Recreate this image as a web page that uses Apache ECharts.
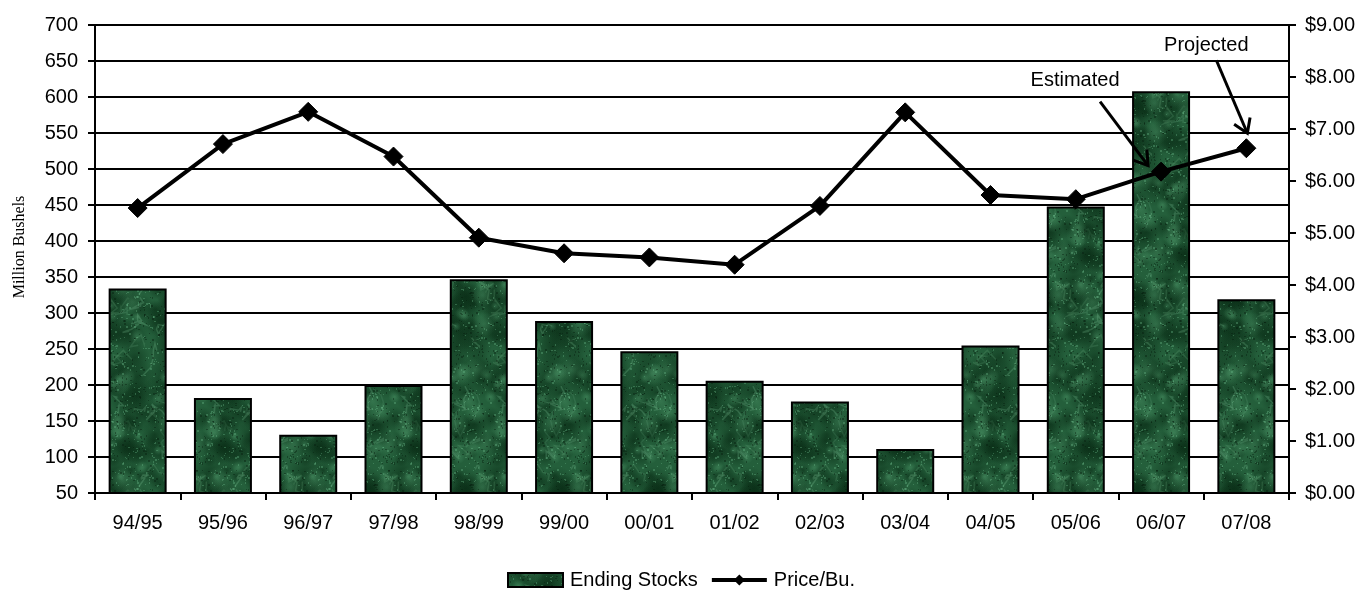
<!DOCTYPE html>
<html>
<head>
<meta charset="utf-8">
<script src="https://cdn.jsdelivr.net/npm/echarts@6/dist/echarts.min.js"></script>
<style>
html,body{margin:0;padding:0;background:#fff;}
#chart{width:1362px;height:597px;}
</style>
</head>
<body>
<div id="chart"></div>
<script>
const categories = ['94/95','95/96','96/97','97/98','98/99','99/00','00/01','01/02','02/03','03/04','04/05','05/06','06/07','07/08'];
const endingStocks = [334, 182, 131, 200, 347, 289, 247, 206, 177, 111, 255, 448, 608, 319];
const pricePerBu = [5.48, 6.71, 7.33, 6.47, 4.91, 4.61, 4.53, 4.39, 5.52, 7.32, 5.73, 5.65, 6.18, 6.63];
const leftTicks = {min: 50, max: 700, interval: 50};
const rightTicks = {min: 0, max: 9, interval: 1};
const annotations = [
  {index: 12, text: 'Estimated'},
  {index: 13, text: 'Projected'}
];

function makeMarble(){
  const W = 96, H = 192;
  const c = document.createElement('canvas');
  c.width = W; c.height = H;
  const g = c.getContext('2d');
  g.fillStyle = '#245f3b';
  g.fillRect(0, 0, W, H);
  let s = 24680;
  const rnd = () => { s = (s * 1103515245 + 12345) & 0x7fffffff; return s / 0x7fffffff; };
  const blot = (x, y, r, col) => {
    for (const dx of [-W, 0, W]) for (const dy of [-H, 0, H]) {
      const gr = g.createRadialGradient(x + dx, y + dy, 0, x + dx, y + dy, r);
      gr.addColorStop(0, col);
      gr.addColorStop(1, col.replace(/[\d.]+\)$/, '0)'));
      g.fillStyle = gr;
      g.fillRect(x + dx - r, y + dy - r, 2 * r, 2 * r);
    }
  };
  for (let i = 0; i < 70; i++) blot(rnd() * W, rnd() * H, 6 + rnd() * 14, 'rgba(8,42,20,0.55)');
  for (let i = 0; i < 40; i++) blot(rnd() * W, rnd() * H, 4 + rnd() * 9, 'rgba(90,170,120,0.35)');
  g.lineWidth = 1.5;
  for (let i = 0; i < 30; i++) {
    g.strokeStyle = 'rgba(120,190,145,' + (0.12 + rnd() * 0.18).toFixed(2) + ')';
    g.beginPath();
    let x = rnd() * W, y = rnd() * H;
    g.moveTo(x, y);
    for (let k = 0; k < 5; k++) { x += (rnd() - 0.5) * 20; y += (rnd() - 0.5) * 20; g.lineTo(x, y); }
    g.stroke();
  }
  for (let i = 0; i < 900; i++) {
    g.fillStyle = rnd() < 0.5 ? 'rgba(110,190,140,0.35)' : 'rgba(4,28,12,0.4)';
    g.fillRect(rnd() * W | 0, rnd() * H | 0, 1 + (rnd() < 0.4), 1 + (rnd() < 0.4));
  }
  return c;
}

const marble = makeMarble();
const chart = echarts.init(document.getElementById('chart'), null, {renderer: 'canvas'});
const FONT = '"Liberation Sans", Arial, sans-serif';

const option = {
  animation: false,
  backgroundColor: '#fff',
  grid: {left: 95, right: 73, top: 25, bottom: 104, containLabel: false, outerBoundsMode: 'none'},
  legend: {
    bottom: 2,
    left: 'center',
    itemWidth: 55,
    itemHeight: 14,
    itemGap: 12,
    textStyle: {fontFamily: FONT, fontSize: 20, color: '#000', padding: [0, 0, 0, 2]},
    data: [
      {name: 'Ending Stocks', icon: 'rect', itemStyle: {borderColor: '#000', borderWidth: 2}},
      {name: 'Price/Bu.', lineStyle: {color: '#000', width: 4}, itemStyle: {color: '#000'}}
    ]
  },
  xAxis: {
    type: 'category',
    data: categories,
    boundaryGap: true,
    axisLine: {lineStyle: {color: '#000', width: 2}},
    axisTick: {show: true, interval: 0, length: 7, lineStyle: {color: '#000', width: 2}},
    axisLabel: {interval: 0, margin: 20, color: '#000', fontFamily: FONT, fontSize: 20},
    splitLine: {show: false}
  },
  yAxis: [
    {
      type: 'value',
      min: leftTicks.min, max: leftTicks.max, interval: leftTicks.interval,
      name: 'Million Bushels',
      nameLocation: 'middle',
      nameGap: 67,
      nameTextStyle: {fontFamily: '"Liberation Serif", "Times New Roman", serif', fontSize: 16, color: '#000', padding: [0, 0, 0, 24]},
      axisLine: {show: true, lineStyle: {color: '#000', width: 2}},
      axisTick: {show: true, length: 7, lineStyle: {color: '#000', width: 2}},
      axisLabel: {margin: 17, color: '#000', fontFamily: FONT, fontSize: 20},
      splitLine: {show: true, lineStyle: {color: '#000', width: 2}}
    },
    {
      type: 'value',
      position: 'right',
      min: rightTicks.min, max: rightTicks.max, interval: rightTicks.interval,
      axisLine: {show: true, lineStyle: {color: '#000', width: 2}},
      axisTick: {show: true, length: 7, lineStyle: {color: '#000', width: 2}},
      axisLabel: {margin: 16, color: '#000', fontFamily: FONT, fontSize: 20,
        formatter: v => '$' + v.toFixed(2)},
      splitLine: {show: false}
    }
  ],
  series: [
    {
      name: 'Ending Stocks',
      type: 'bar',
      yAxisIndex: 0,
      data: endingStocks,
      barCategoryGap: '32%',
      itemStyle: {color: {image: marble, repeat: 'repeat'}, borderColor: '#000', borderWidth: 2},
      z: 2
    },
    {
      name: 'Price/Bu.',
      type: 'line',
      yAxisIndex: 1,
      data: pricePerBu,
      symbol: 'diamond',
      symbolSize: 19,
      lineStyle: {color: '#000', width: 4},
      itemStyle: {color: '#000', borderColor: '#000'},
      z: 5
    }
  ]
};
chart.setOption(option);

// Annotations anchored to data points via the chart's own coordinate conversion
const graphics = [];
const annoOffsets = {
  'Estimated': {start: [-61, -70], tip: [-13, -6], text: [-86, -91]},
  'Projected': {start: [-30, -88], tip: [1, -15], text: [-40, -103]}
};
annotations.forEach(a => {
  const p = chart.convertToPixel({seriesIndex: 1}, [a.index, pricePerBu[a.index]]);
  const o = annoOffsets[a.text];
  const sx = p[0] + o.start[0], sy = p[1] + o.start[1];
  const tx = p[0] + o.tip[0], ty = p[1] + o.tip[1];
  const ang = Math.atan2(ty - sy, tx - sx);
  const L = 16, spread = Math.PI / 5.5;
  graphics.push({
    type: 'line', z: 10,
    shape: {x1: sx, y1: sy, x2: tx, y2: ty},
    style: {stroke: '#000', lineWidth: 3}
  });
  graphics.push({
    type: 'polyline', z: 10,
    shape: {points: [
      [tx - L * Math.cos(ang - spread), ty - L * Math.sin(ang - spread)],
      [tx, ty],
      [tx - L * Math.cos(ang + spread), ty - L * Math.sin(ang + spread)]
    ]},
    style: {stroke: '#000', lineWidth: 3, fill: null}
  });
  graphics.push({
    type: 'text', z: 10,
    x: p[0] + o.text[0], y: p[1] + o.text[1],
    style: {text: a.text, font: '20px ' + FONT, fill: '#000', align: 'center', verticalAlign: 'middle',
      backgroundColor: '#fff', padding: [0, 2]}
  });
});
chart.setOption({graphic: graphics});
</script>
</body>
</html>
